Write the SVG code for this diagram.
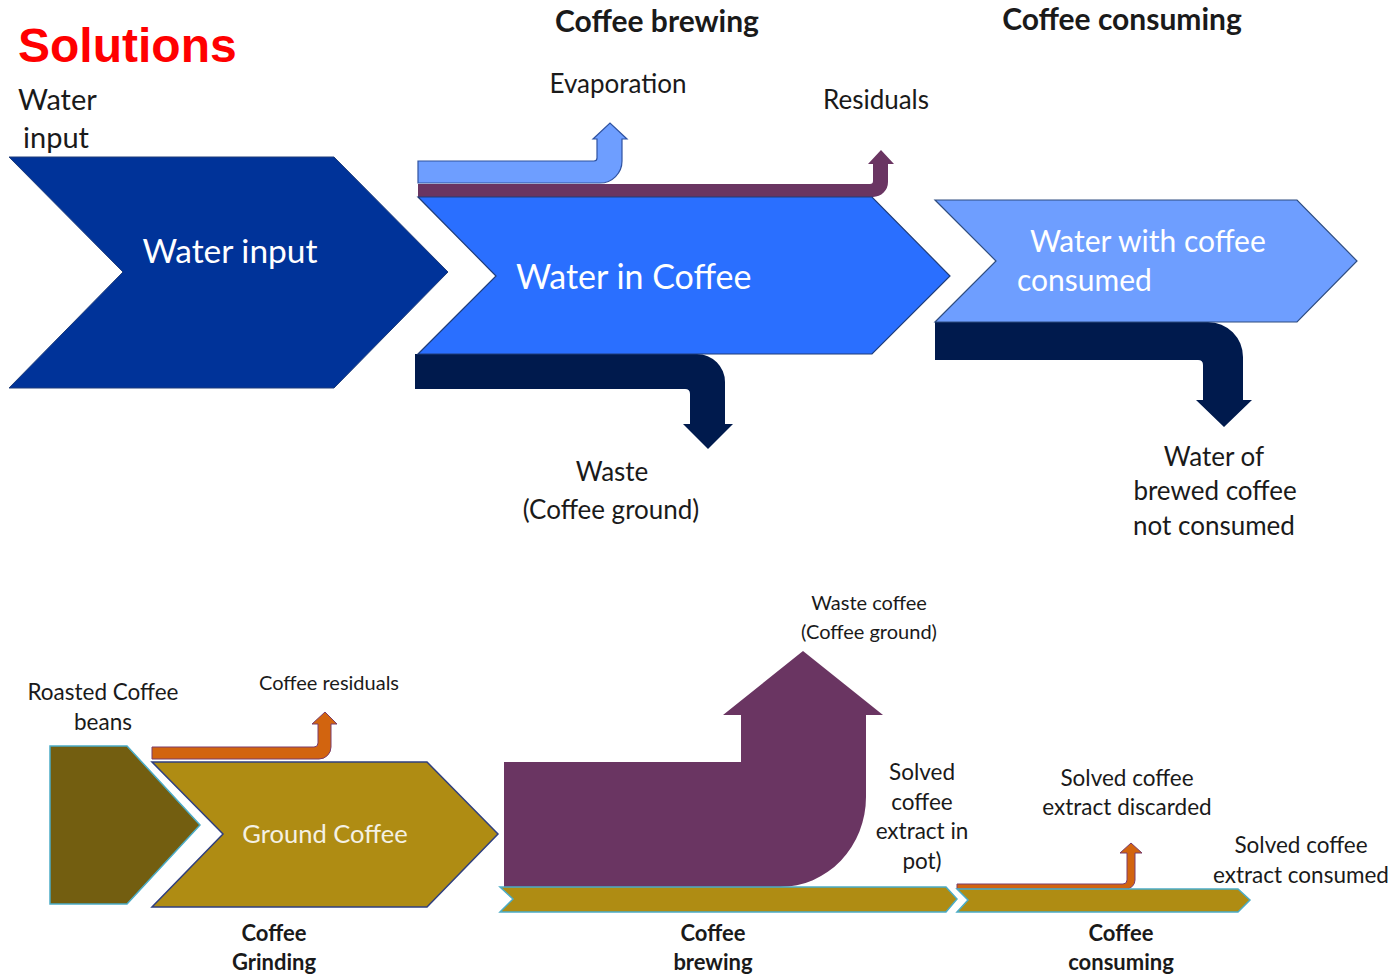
<svg xmlns="http://www.w3.org/2000/svg" width="1392" height="974" viewBox="0 0 1392 974">
  <style>
    text { font-family: Lato, "Open Sans", "Liberation Sans", sans-serif; fill: #1a1a1a; }
    .c { text-anchor: middle; }
    .b { font-weight: bold; }
    .w { fill: #ffffff; }
    .lbl { font-size: 26px; }
    .sm { font-size: 20px; }
    .md { font-size: 22.5px; }
    .step { font-size: 22px; font-weight: bold; text-anchor: middle; }
    .head { font-size: 30px; font-weight: bold; text-anchor: middle; }
    .navy { fill: #001a4d; }
    .purple { fill: #6a3562; }
    .olive { fill: #af8c13; stroke: #4bacc6; stroke-width: 1.5; }
    .orange { fill: #d2640f; stroke: #7a3c6a; stroke-width: 1; }
  </style>

  <!-- headings -->
  <text x="18" y="62" style="font-family:'Liberation Sans',Arial,sans-serif;font-size:48px;font-weight:bold;fill:#ff0000">Solutions</text>
  <text class="head" x="657" y="32">Coffee brewing</text>
  <text class="head" x="1122" y="30">Coffee consuming</text>

  <!-- water flow -->
  <g id="water-input">
    <path d="M9,157 L334,157 L448,272 L334,388 L9,388 L123,272 Z" fill="#003399" stroke="#1f3d7a" stroke-width="1"/>
    <text class="w c" x="230" y="263" font-size="33.5">Water input</text>
    <text x="18" y="110" font-size="29">Water</text>
    <text x="23" y="148" font-size="29">input</text>
  </g>

  <g id="flows-top">
    <!-- evaporation -->
    <path d="M418,161 L594,161 Q597,161 597,158 L597,139 L593,139 L610,123 L627,139 L622,139 L622,161 A22,22 0 0 1 600,183 L418,183 Z" fill="#6e9eff" stroke="#2f52a0" stroke-width="1.2"/>
    <!-- residuals -->
    <path d="M418,184 L870,184 Q873,184 873,181 L873,164 L868,164 L881,150 L894,164 L888,164 L888,182 A15,15 0 0 1 873,197 L418,197 Z" class="purple"/>
    <!-- waste -->
    <path d="M415,354 L697,354 A28,28 0 0 1 725,382 L725,424 L733,424 L708,449 L683,424 L690,424 L690,394 Q690,389 685,389 L415,389 Z" class="navy"/>
    <!-- water of brewed coffee not consumed -->
    <path d="M935,322 L1208,322 A35,35 0 0 1 1243,357 L1243,400 L1252,400 L1224,427 L1196,400 L1203,400 L1203,365 Q1203,360 1198,360 L935,360 Z" class="navy"/>
  </g>

  <g id="water-in-coffee">
    <path d="M418,197 L872,197 L950,276 L872,354 L418,354 L496,276 Z" fill="#2a6fff" stroke="#1f3d7a" stroke-width="1.2"/>
    <text class="w" x="516" y="289" font-size="34">Water in Coffee</text>
  </g>

  <g id="water-with-coffee">
    <path d="M935,200 L1297,200 L1357,261 L1297,322 L935,322 L996,261 Z" fill="#6e9eff" stroke="#2f4d80" stroke-width="1.2"/>
    <text class="w" x="1030" y="252" font-size="30">Water with coffee</text>
    <text class="w" x="1017" y="291" font-size="30">consumed</text>
  </g>

  <g id="labels-top">
    <text class="c lbl" x="618" y="93">Evaporation</text>
    <text class="c lbl" x="876" y="109">Residuals</text>
    <text class="c lbl" x="612" y="481">Waste</text>
    <text class="c lbl" x="611" y="519">(Coffee ground)</text>
    <text class="c lbl" x="1214" y="466">Water of</text>
    <text class="c lbl" x="1215" y="500">brewed coffee</text>
    <text class="c lbl" x="1214" y="535">not consumed</text>
  </g>

  <!-- coffee flow -->
  <g id="roasted-beans">
    <path d="M50,746 L127,746 L200,825 L127,904 L50,904 Z" fill="#735e10" stroke="#4bacc6" stroke-width="1.5"/>
    <text class="c md" x="103" y="700">Roasted Coffee</text>
    <text class="c md" x="103" y="730">beans</text>
  </g>

  <g id="flows-bottom">
    <path d="M152,747 L314,747 Q318,747 318,743 L318,724 L312,724 L325,712 L337,724 L331,724 L331,747 A12,12 0 0 1 319,759 L152,759 Z" class="orange"/>
    <path d="M504,762 L741,762 L741,715 L723,715 L803,651 L883,715 L866,715 L866,797 A86,90 0 0 1 780,887 L504,887 Z" class="purple"/>
    <path d="M957,884 L1123,884 Q1127,884 1127,880 L1127,853 L1120,853 L1131,843 L1142,853 L1135,853 L1135,880 A9,9 0 0 1 1126,889 L957,889 Z" class="orange"/>
  </g>

  <g id="ground-coffee">
    <path d="M152,762 L427,762 L498,834 L427,907 L152,907 L223,834 Z" fill="#af8c13" stroke="#2f3f7f" stroke-width="1.5"/>
    <text class="c" x="325" y="843" font-size="25.5" style="fill:#f4f1e4">Ground Coffee</text>
  </g>

  <g id="brewing-band">
    <path d="M500,887 L946,887 L957,899 L946,912 L500,912 L513,899 Z" class="olive"/>
  </g>

  <g id="consuming-band">
    <path d="M957,889 L1238,889 L1250,900 L1238,912 L957,912 L968,900 Z" class="olive"/>
  </g>

  <g id="labels-bottom">
    <text class="c sm" x="329" y="690">Coffee residuals</text>
    <text class="c sm" x="869" y="610">Waste coffee</text>
    <text class="c sm" x="869" y="639">(Coffee ground)</text>
    <text class="c md" x="922" y="780">Solved</text>
    <text class="c md" x="922" y="810">coffee</text>
    <text class="c md" x="922" y="839">extract in</text>
    <text class="c md" x="922" y="869">pot)</text>
    <text class="c md" x="1127" y="786">Solved coffee</text>
    <text class="c md" x="1127" y="815">extract discarded</text>
    <text class="c md" x="1301" y="853">Solved coffee</text>
    <text class="c md" x="1301" y="883">extract consumed</text>
    <text class="step" x="274" y="941">Coffee</text>
    <text class="step" x="274" y="970">Grinding</text>
    <text class="step" x="713" y="941">Coffee</text>
    <text class="step" x="713" y="970">brewing</text>
    <text class="step" x="1121" y="941">Coffee</text>
    <text class="step" x="1121" y="970">consuming</text>
  </g>
</svg>
